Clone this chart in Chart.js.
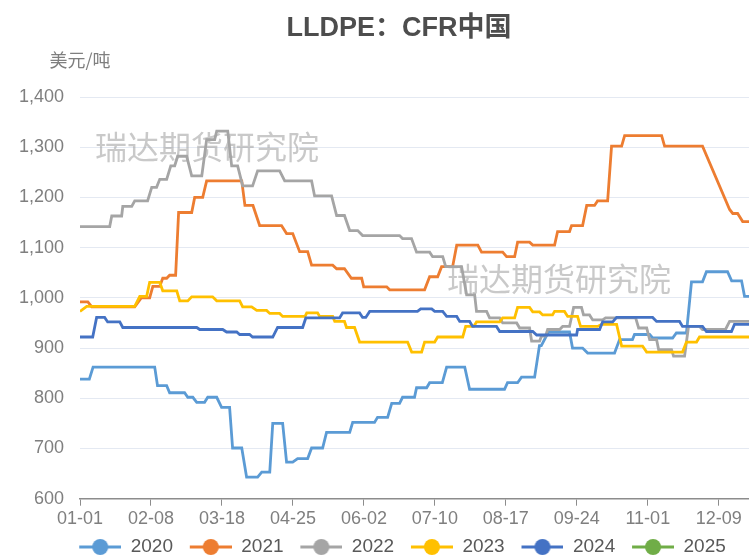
<!DOCTYPE html>
<html>
<head>
<meta charset="utf-8">
<title>LLDPE：CFR中国</title>
<script src="https://cdn.jsdelivr.net/npm/chart.js@4.4.1/dist/chart.umd.min.js"></script>
<style>
  html, body { margin: 0; padding: 0; background: #fff; overflow: hidden; }
  #wrap { width: 800px; height: 559px; }
</style>
</head>
<body>
<div id="wrap"><canvas id="chart" width="800" height="559"></canvas></div>
<script>
// x axis is day of year (0 = 01-01), labelled every 38 days
const tickDays = [0, 38, 76, 114, 152, 190, 228, 266, 304, 342];
const tickLabels = ['01-01', '02-08', '03-18', '04-25', '06-02', '07-10', '08-17', '09-24', '11-01', '12-09'];

const yearNames = ['2020', '2021', '2022', '2023', '2024', '2025'];
const yearColors = ['#5b9bd5', '#ed7d31', '#a5a5a5', '#ffc000', '#4472c4', '#70ad47'];

// price levels: [first day, last day, USD/t]
const s2020 = [
    [0, 5, 838], [7, 40, 862], [41.5, 46.4, 825], [48, 56, 811], [57.7, 60.4, 802],
    [62.5, 66.7, 792], [68.4, 73.2, 802], [75.8, 80.1, 782], [81.7, 86.6, 701], [89.2, 95.1, 643],
    [97.3, 101.6, 653], [103.2, 108.5, 750], [110.6, 113.9, 673], [116.5, 121.9, 680], [124, 129.9, 701],
    [132, 144.4, 732], [146, 157.7, 752], [159.3, 164.7, 762], [166.9, 171.1, 790], [172.7, 179.1, 802],
    [180.2, 185.6, 821], [187.2, 194, 831], [196.3, 206, 862], [208.6, 227.3, 818], [228.9, 234.3, 831],
    [236.4, 243.4, 842], [246, 247, 905], [250.8, 262.1, 932], [263.7, 269.1, 900], [271.8, 286.2, 890],
    [288.9, 295.8, 917], [296.9, 305, 927], [306.6, 317.3, 920], [319.3, 324.7, 930], [327.4, 333.3, 1032],
    [335.4, 346.7, 1052], [348.9, 354.2, 1034], [355.8, 363, 1003]
];
const s2021 = [
    [0, 4.2, 992], [6.3, 29.3, 982], [32.8, 37.3, 1000], [39, 42.7, 1023], [44.3, 46.4, 1039],
    [48, 51.2, 1045], [52.8, 59.8, 1170], [61.4, 65.7, 1200], [67.8, 86.6, 1233], [88.3, 92.6, 1184],
    [96.2, 107.9, 1144], [110.6, 113.9, 1128], [117.6, 121.9, 1092], [124, 135.3, 1065], [137.4, 141.6, 1058],
    [145.3, 150.8, 1039], [151.9, 164.2, 1022], [165.8, 184.5, 1016], [187.2, 191.5, 1042], [193.6, 199.5, 1062],
    [201.7, 213, 1105], [215, 226.3, 1091], [228.4, 232.7, 1082], [234.3, 240.7, 1111], [242.4, 254.1, 1105],
    [255.7, 262.1, 1132], [263.2, 269.1, 1144], [271.3, 275.5, 1184], [277.1, 282.5, 1193], [284.6, 290, 1302],
    [291.6, 311.4, 1323], [313, 333.3, 1302], [347.8, 347.8, 1176], [349.5, 352.1, 1168], [354.8, 363, 1152]
];
const s2022 = [
    [0, 15.9, 1142], [17, 22.3, 1163], [22.9, 27.7, 1182], [29.3, 36.2, 1193], [38.4, 41, 1220],
    [42.7, 46.4, 1236], [48.6, 50.7, 1263], [52.3, 57.1, 1282], [59.8, 65.2, 1243], [67.8, 72.1, 1315],
    [73.2, 79.1, 1332], [81.2, 84.4, 1263], [87.1, 92.4, 1223], [95.1, 106.9, 1253], [109.6, 124, 1233],
    [125.6, 134.7, 1203], [137.4, 141.6, 1164], [144.4, 148.7, 1134], [151.3, 171.1, 1124], [172.7, 177.5, 1118],
    [180.2, 187.2, 1091], [188.8, 194.2, 1082], [195.8, 204.3, 1062], [207, 211.3, 1006], [212.3, 217.7, 973],
    [219.3, 224.7, 960], [226.3, 233.8, 950], [235.4, 240.7, 940], [241.8, 246.1, 914], [247.1, 249.3, 924],
    [250.4, 256.8, 937], [258.4, 262.1, 943], [264.3, 268.5, 981], [269.6, 272.8, 966], [274.5, 279.8, 956],
    [281.4, 297.5, 960], [299.1, 303.4, 940], [305, 308.7, 917], [309.8, 316.7, 897], [317.8, 323.7, 884],
    [325.8, 331.7, 943], [333.3, 345.6, 937], [347.8, 363, 953]
];
const s2023 = [
    [0, 0, 973], [3.6, 29.3, 983], [32, 35.7, 1003], [37.3, 42.7, 1031], [44.3, 51.8, 1014],
    [53.4, 57.7, 994], [59.8, 71, 1002], [73.2, 85.5, 994], [87.1, 91.9, 982], [94.6, 99.9, 975],
    [101.6, 106.9, 969], [108.5, 120.5, 963], [121.4, 127.2, 970], [128.3, 135.3, 963], [136.4, 141.6, 953],
    [142.7, 147, 941], [149.7, 175.4, 912], [177.6, 182.9, 892], [184.5, 189.9, 912], [191.5, 204.9, 922],
    [206.5, 210.8, 943], [212.3, 224.7, 952], [226.3, 232.7, 960], [234.3, 240.7, 981], [242.4, 246.1, 972],
    [247.7, 253, 966], [254.1, 259.4, 973], [261.1, 266.4, 963], [268, 277.1, 943], [279.3, 287.3, 947],
    [290, 301.2, 904], [303.4, 322.6, 892], [324.7, 330.1, 912], [331.7, 363, 922]
];
const s2024 = [
    [0, 6.8, 922], [8.9, 13.2, 961], [14.8, 21.3, 952], [22.9, 62.5, 941], [64.1, 76.4, 937],
    [78.5, 83.9, 932], [85.5, 90.8, 927], [92.4, 103.2, 922], [105.8, 119.2, 941], [120.9, 139, 960],
    [140.6, 149.7, 970], [151.3, 153, 961], [155.1, 180.7, 973], [182.4, 188.3, 978], [189.9, 194.2, 973],
    [196.3, 201.7, 963], [203.3, 208.6, 953], [210.2, 223, 943], [224.7, 242.4, 933], [244.5, 265.9, 926],
    [266.4, 278.2, 937], [279.8, 285.2, 952], [287.3, 306.6, 961], [308.7, 321, 953], [322.6, 333.3, 943],
    [335.4, 348.8, 933], [350.4, 363, 947]
];
const s2025 = [];

const yearSeries = [s2020, s2021, s2022, s2023, s2024, s2025];

const FONT = '"Liberation Sans", "Noto Sans CJK SC", sans-serif';

// turn flat segments into line points
function toPoints(segments) {
    const pts = [];
    segments.forEach(([d0, d1, v]) => {
        pts.push({ x: d0, y: v });
        if (d1 !== d0) pts.push({ x: d1, y: v });
    });
    return pts;
}

// legend marker: short line with a dot in the middle (left part left blank as item gap)
function legendMarker(color) {
    const c = document.createElement('canvas');
    c.width = 49;
    c.height = 18;
    const ctx = c.getContext('2d');
    ctx.strokeStyle = color;
    ctx.lineWidth = 3;
    ctx.beginPath();
    ctx.moveTo(7, 9);
    ctx.lineTo(49, 9);
    ctx.stroke();
    ctx.fillStyle = color;
    ctx.beginPath();
    ctx.arc(28, 9, 8, 0, Math.PI * 2);
    ctx.fill();
    return c;
}

// unit label and watermark text
const extrasPlugin = {
    id: 'extras',
    beforeDatasetsDraw(chart) {
        const ctx = chart.ctx;
        ctx.save();
        ctx.font = '32px "Noto Sans CJK SC"';
        ctx.fillStyle = 'rgba(165, 165, 165, 0.6)';
        ctx.textBaseline = 'middle';
        ctx.fillText('瑞达期货研究院', 95, 147);
        ctx.fillText('瑞达期货研究院', 447, 279);
        ctx.font = '18px "Noto Sans CJK SC"';
        ctx.fillStyle = '#7f7f7f';
        ctx.textAlign = 'center';
        ctx.fillText('美元/吨', chart.chartArea.left, 60);
        ctx.restore();
    }
};

const datasets = yearNames.map((name, i) => ({
    label: name,
    data: toPoints(yearSeries[i]),
    borderColor: yearColors[i],
    backgroundColor: yearColors[i],
    borderWidth: 2.8,
    pointRadius: 0,
    pointHoverRadius: 0,
    fill: false,
    tension: 0,
    order: -i
}));

new Chart(document.getElementById('chart'), {
    type: 'line',
    data: { datasets: datasets },
    plugins: [extrasPlugin],
    options: {
        responsive: false,
        animation: false,
        devicePixelRatio: 1,
        layout: { padding: { left: 12, right: 14, top: 0, bottom: -7.5 } },
        scales: {
            x: {
                type: 'linear',
                min: 0,
                max: 378,
                afterBuildTicks(scale) {
                    scale.ticks = tickDays.map(v => ({ value: v }));
                },
                afterFit(scale) {
                    scale.height = 29;
                },
                ticks: {
                    autoSkip: false,
                    maxRotation: 0,
                    padding: 3,
                    color: '#7f7f7f',
                    font: { size: 18, family: FONT },
                    callback: (v) => tickLabels[tickDays.indexOf(v)]
                },
                grid: { drawOnChartArea: false, drawTicks: true, tickLength: 7, color: '#8c8c8c' },
                border: { color: '#8c8c8c', width: 1.5 }
            },
            y: {
                min: 600,
                max: 1400,
                afterFit(scale) {
                    scale.width = 68;
                },
                ticks: {
                    stepSize: 100,
                    padding: 16,
                    color: '#7f7f7f',
                    font: { size: 18, family: FONT },
                    callback: (v) => v.toLocaleString('en-US')
                },
                grid: { color: '#e4e9f2', drawTicks: false },
                border: { display: false }
            }
        },
        plugins: {
            title: {
                display: true,
                text: 'LLDPE：CFR中国',
                color: '#4d4d4d',
                font: { size: 27, weight: 'bold', family: FONT },
                padding: { top: 12, bottom: 52.6 }
            },
            legend: {
                position: 'bottom',
                labels: {
                    usePointStyle: true,
                    pointStyleWidth: 49,
                    padding: 9.8,
                    color: '#595959',
                    font: { size: 19, family: FONT },
                    generateLabels(chart) {
                        const items = Chart.defaults.plugins.legend.labels.generateLabels(chart);
                        items.forEach(item => {
                            item.pointStyle = legendMarker(yearColors[item.datasetIndex]);
                        });
                        return items.sort((a, b) => a.datasetIndex - b.datasetIndex);
                    }
                }
            },
            tooltip: { enabled: false }
        }
    }
});
</script>
</body>
</html>
